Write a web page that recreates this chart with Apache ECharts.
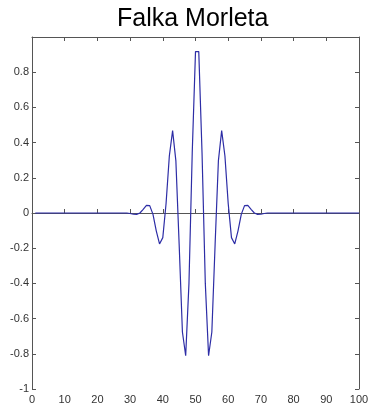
<!DOCTYPE html>
<html>
<head>
<meta charset="utf-8">
<script src="https://cdn.jsdelivr.net/npm/echarts@6/dist/echarts.min.js"></script>
<style>
html,body{margin:0;padding:0;background:#fff;}
#chart{width:372px;height:412px;}
</style>
</head>
<body>
<div id="chart"></div>
<script>
// Title
var chartTitle = "Falka Morleta";
// Sample values (samples 1..100)
var psiValues = [
  0, 0, 0, 0, 0, 0, 0, 0, 0, 0,
  0, 0, 0, 0, 0, 0, 0, 0, 0, 0,
  0, 0, 0, 0, 0, 0, 0, 0, 0.000, -0.003,
  -0.007, -0.008, 0.000, 0.021, 0.043, 0.042, -0.008, -0.101, -0.176, -0.140,
  0.054, 0.324, 0.468, 0.296, -0.178, -0.676, -0.811, -0.400, 0.341, 0.917,
  0.917, 0.341, -0.400, -0.811, -0.676, -0.178, 0.296, 0.468, 0.324, 0.054,
  -0.140, -0.176, -0.101, -0.008, 0.042, 0.043, 0.021, 0.000, -0.008, -0.007,
  -0.003, 0.000, 0, 0, 0, 0, 0, 0, 0, 0,
  0, 0, 0, 0, 0, 0, 0, 0, 0, 0,
  0, 0, 0, 0, 0, 0, 0, 0, 0, 0
];
// Axis tick settings
var xMin = 0, xMax = 100, xStep = 10;
var yMin = -1, yMax = 1, yStep = 0.2;

var seriesData = psiValues.map(function (v, i) { return [i + 1, v]; });

var labelFont = "'Liberation Sans Narrow','Liberation Sans',Arial,sans-serif";
var axisLineStyle = { color: '#555', width: 1 };

var chart = echarts.init(document.getElementById('chart'), null, { renderer: 'canvas' });
chart.setOption({
  animation: false,
  backgroundColor: '#fff',
  title: {
    text: chartTitle,
    left: 117,
    top: 7,
    padding: 0,
    textStyle: {
      fontFamily: labelFont,
      fontSize: 25,
      fontWeight: 'normal',
      color: '#000'
    }
  },
  grid: { left: 32, right: 13, top: 37, bottom: 23, containLabel: false },
  xAxis: [{
    type: 'value', min: xMin, max: xMax, interval: xStep,
    position: 'bottom',
    axisLine: { show: true, lineStyle: axisLineStyle },
    axisTick: { show: true, inside: true, length: 4, lineStyle: axisLineStyle },
    axisLabel: { fontFamily: labelFont, fontSize: 11, color: '#333', margin: 5 },
    splitLine: { show: false }
  }, {
    type: 'value', min: xMin, max: xMax, interval: xStep,
    position: 'top',
    axisLine: { show: true, onZero: false, lineStyle: axisLineStyle },
    axisTick: { show: true, inside: true, length: 4, lineStyle: axisLineStyle },
    axisLabel: { show: false },
    splitLine: { show: false }
  }],
  yAxis: [{
    type: 'value', min: yMin, max: yMax, interval: yStep,
    position: 'left',
    axisLine: { show: true, onZero: false, lineStyle: axisLineStyle },
    axisTick: { show: true, inside: true, length: 4, lineStyle: axisLineStyle },
    axisLabel: {
      fontFamily: labelFont, fontSize: 11, color: '#333', margin: 3,
      formatter: function (v) {
        if (Math.abs(v - 1) < 1e-9) return '';
        return String(Math.round(v * 10) / 10);
      }
    },
    splitLine: { show: false }
  }, {
    type: 'value', min: yMin, max: yMax, interval: yStep,
    position: 'right',
    axisLine: { show: true, onZero: false, lineStyle: axisLineStyle },
    axisTick: { show: true, inside: true, length: 4, lineStyle: axisLineStyle },
    axisLabel: { show: false },
    splitLine: { show: false }
  }],
  series: [{
    type: 'line',
    data: seriesData,
    xAxisIndex: 0,
    yAxisIndex: 0,
    showSymbol: false,
    symbol: 'none',
    smooth: false,
    lineStyle: { color: '#2d2da6', width: 1.2 }
  }]
});
</script>
</body>
</html>
